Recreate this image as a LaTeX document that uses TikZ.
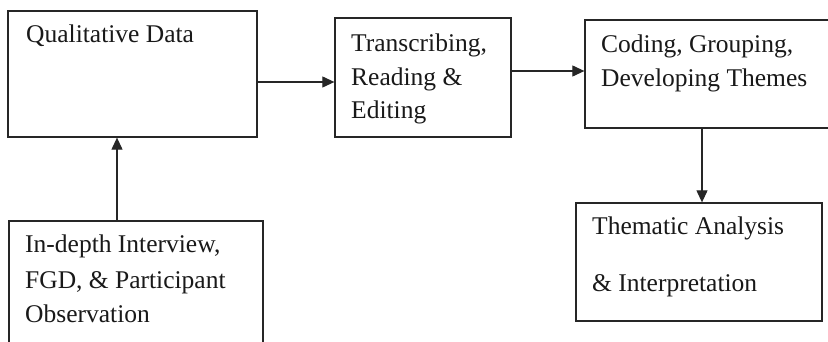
\documentclass[tikz,border=0pt]{standalone}
\usepackage{fontspec}
\setmainfont{Liberation Serif}
\usetikzlibrary{arrows.meta}
\begin{document}
\begin{tikzpicture}[x=1pt,y=-1pt,
  boxst/.style={draw=black!85,line width=1.3pt,fill=none,inner sep=0pt},
  txt/.style={anchor=base west,inner sep=0pt,font=\fontsize{25.5}{30}\selectfont,text=black!90},
  arr/.style={draw=black!85,line width=1.1pt,-{Triangle[length=12pt,width=11pt]}}]
\useasboundingbox (0,0) rectangle (828,342);
\clip (0,0) rectangle (828,342);
\fill[white] (0,0) rectangle (828,342);
% boxes
\node[boxst,minimum width=249pt,minimum height=126pt] (A) at (132.5,74) {};
\node[boxst,minimum width=176pt,minimum height=119pt] (B) at (423,77.5) {};
\node[boxst,minimum width=255pt,minimum height=108pt] (C) at (712.5,74) {};
\node[boxst,minimum width=246pt,minimum height=118pt] (D) at (699,262) {};
\node[boxst,minimum width=254pt,minimum height=140pt] (E) at (136,291) {};
% texts
\node[txt] (a1) at (26,43) {Qualitative Data};
\node[txt] (b1) at (351,52) {Transcribing,};
\node[txt] (b2) at (351,86) {Reading \&};
\node[txt] (b3) at (351,119) {Editing};
\node[txt] (c1) at (601,53) {Coding, Grouping,};
\node[txt] (c2) at (601,87) {Developing Themes};
\node[txt] (d1) at (592,235) {Thematic Analysis};
\node[txt] (d2) at (592,291) {\& Interpretation};
\node[txt] (e1) at (25,252) {In-depth Interview,};
\node[txt] (e2) at (25,288) {FGD, \& Participant};
\node[txt] (e3) at (25,322) {Observation};
% connectors
\coordinate (yab) at (0,82);
\coordinate (ybc) at (0,71);
\coordinate (xcd) at (702,0);
\coordinate (xea) at (117,0);
\draw[arr] (A.east |- yab) -- (B.west |- yab);
\draw[arr] (B.east |- ybc) -- (C.west |- ybc);
\draw[arr] (C.south -| xcd) -- (D.north -| xcd);
\draw[arr] (E.north -| xea) -- (A.south -| xea);
\end{tikzpicture}
\end{document}
